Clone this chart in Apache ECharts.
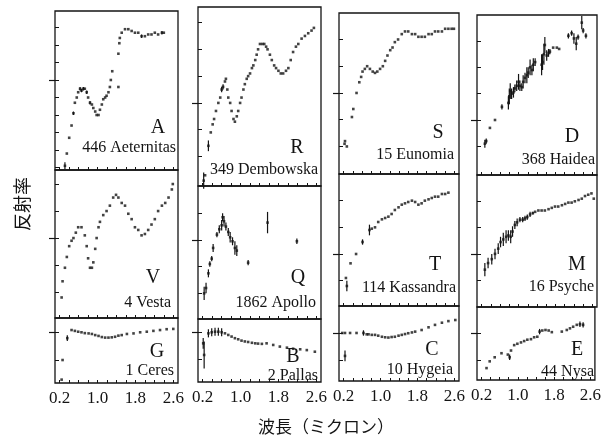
<!DOCTYPE html>
<html>
<head>
<meta charset="utf-8">
<script src="https://cdn.jsdelivr.net/npm/echarts@6/dist/echarts.min.js"></script>
<style>
html, body { margin: 0; padding: 0; background: #fff; }
#main { width: 604px; height: 439px; }
</style>
</head>
<body>
<div id="main"></div>
<script>
// [wavelength (micron), relative reflectance, error bar half length]
const aeternitas = [[0.31,0.51,0.02],[0.35,0.58,0],[0.40,0.67,0],[0.45,0.74,0],[0.49,0.81,0.01],[0.52,0.87,0],[0.56,0.90,0],[0.59,0.93,0],[0.63,0.95,0.01],[0.66,0.94,0.01],[0.70,0.95,0.01],[0.73,0.95,0],[0.77,0.93,0.01],[0.80,0.90,0],[0.84,0.87,0.01],[0.88,0.86,0],[0.91,0.84,0],[0.95,0.82,0],[0.98,0.80,0],[1.02,0.80,0],[1.05,0.83,0],[1.09,0.86,0],[1.12,0.89,0],[1.16,0.90,0],[1.19,0.91,0],[1.23,0.93,0],[1.26,0.96,0],[1.28,1.00,0],[1.31,1.05,0],[1.44,0.96,0],[1.44,1.15,0],[1.46,1.21,0],[1.47,1.24,0],[1.51,1.27,0],[1.58,1.29,0],[1.65,1.29,0],[1.72,1.28,0],[1.79,1.27,0],[1.86,1.27,0],[1.93,1.25,0.01],[2.00,1.25,0],[2.07,1.26,0],[2.14,1.26,0],[2.21,1.27,0],[2.28,1.26,0],[2.36,1.27,0.01],[2.40,1.27,0]];
const dembowska = [[0.22,0.71,0.03],[0.25,0.73,0],[0.32,0.84,0.02],[0.37,0.89,0],[0.41,0.92,0],[0.44,0.94,0],[0.48,0.97,0],[0.53,1.00,0],[0.57,1.02,0],[0.60,1.05,0.01],[0.63,1.06,0.01],[0.67,1.08,0],[0.69,1.09,0],[0.72,1.05,0],[0.74,1.02,0],[0.78,1.00,0],[0.81,0.97,0],[0.85,0.94,0],[0.88,0.93,0],[0.92,0.95,0],[0.95,0.97,0],[0.99,1.00,0],[1.02,1.02,0],[1.06,1.05,0],[1.09,1.07,0],[1.13,1.09,0],[1.16,1.10,0],[1.20,1.11,0],[1.24,1.13,0],[1.27,1.14,0],[1.31,1.16,0],[1.34,1.18,0],[1.37,1.20,0],[1.41,1.22,0],[1.46,1.22,0],[1.50,1.22,0],[1.54,1.21,0],[1.57,1.20,0],[1.62,1.18,0],[1.66,1.16,0],[1.71,1.14,0],[1.75,1.13,0],[1.80,1.12,0],[1.85,1.11,0],[1.90,1.11,0],[1.96,1.12,0],[2.01,1.13,0],[2.06,1.16,0],[2.11,1.19,0],[2.17,1.21,0],[2.22,1.22,0],[2.29,1.24,0],[2.36,1.25,0],[2.43,1.26,0],[2.50,1.27,0],[2.55,1.28,0]];
const eunomia = [[0.22,0.81,0],[0.23,0.82,0],[0.27,0.80,0],[0.38,0.91,0],[0.41,0.94,0],[0.48,1.00,0],[0.54,1.04,0],[0.58,1.06,0],[0.61,1.08,0],[0.66,1.09,0],[0.71,1.10,0],[0.77,1.09,0],[0.83,1.08,0],[0.88,1.075,0],[0.93,1.08,0],[0.99,1.09,0],[1.05,1.10,0],[1.10,1.12,0],[1.15,1.14,0],[1.21,1.16,0],[1.26,1.17,0],[1.31,1.19,0],[1.38,1.20,0],[1.46,1.22,0],[1.53,1.23,0],[1.60,1.23,0],[1.68,1.22,0],[1.75,1.22,0],[1.82,1.21,0],[1.89,1.21,0],[1.96,1.21,0],[2.04,1.22,0],[2.11,1.22,0],[2.18,1.23,0],[2.25,1.23,0],[2.33,1.23,0],[2.40,1.24,0],[2.47,1.24,0],[2.54,1.24,0],[2.59,1.24,0]];
const haidea = [[0.27,0.91,0.015],[0.30,0.92,0.01],[0.38,0.97,0],[0.49,1.00,0],[0.64,1.05,0.01],[0.78,1.065,0.025],[0.80,1.09,0.03],[0.82,1.11,0.03],[0.85,1.10,0.02],[0.89,1.105,0.02],[0.92,1.12,0.015],[0.96,1.13,0.02],[1.00,1.145,0.03],[1.03,1.13,0.02],[1.07,1.125,0.015],[1.10,1.145,0.025],[1.14,1.16,0.02],[1.18,1.17,0.03],[1.21,1.18,0.02],[1.25,1.20,0.03],[1.29,1.19,0.02],[1.32,1.21,0.025],[1.36,1.22,0.015],[1.50,1.21,0.04],[1.52,1.22,0.03],[1.55,1.25,0.04],[1.57,1.285,0.03],[1.61,1.245,0.02],[1.65,1.255,0.015],[1.68,1.26,0.01],[1.75,1.275,0],[1.83,1.275,0],[1.88,1.27,0],[2.08,1.32,0.01],[2.15,1.33,0.01],[2.20,1.31,0.02],[2.25,1.29,0.025],[2.29,1.315,0.01],[2.37,1.37,0.025],[2.40,1.34,0.01],[2.46,1.32,0.01]];
const vesta = [[0.24,0.78,0],[0.26,0.84,0],[0.31,0.89,0],[0.35,0.93,0],[0.40,0.97,0],[0.45,0.99,0],[0.49,1.00,0],[0.54,1.02,0],[0.59,1.04,0],[0.66,1.04,0],[0.73,1.01,0],[0.77,0.97,0],[0.80,0.925,0],[0.84,0.89,0],[0.88,0.89,0],[0.91,0.91,0],[0.95,0.96,0],[0.98,1.00,0],[1.02,1.04,0],[1.05,1.06,0],[1.12,1.085,0],[1.19,1.10,0],[1.26,1.12,0],[1.33,1.15,0],[1.39,1.16,0],[1.44,1.15,0],[1.51,1.13,0],[1.58,1.12,0],[1.65,1.09,0],[1.72,1.07,0],[1.79,1.04,0],[1.86,1.03,0],[1.93,1.01,0],[2.00,1.015,0],[2.07,1.03,0],[2.14,1.05,0],[2.21,1.07,0],[2.28,1.10,0],[2.36,1.12,0],[2.43,1.13,0],[2.50,1.15,0],[2.57,1.18,0],[2.59,1.20,0]];
const apollo = [[0.23,0.80,0.025],[0.27,0.82,0.02],[0.32,0.875,0.015],[0.35,0.91,0.01],[0.39,0.93,0.01],[0.42,0.97,0.015],[0.50,1.02,0.01],[0.55,1.04,0.015],[0.60,1.055,0.02],[0.62,1.085,0.015],[0.65,1.07,0.02],[0.69,1.05,0.015],[0.74,1.03,0.015],[0.78,1.01,0.02],[0.83,0.995,0.015],[0.88,0.97,0.025],[0.92,0.96,0.02],[1.16,0.915,0.01],[1.57,1.065,0.04],[2.19,0.995,0.01]];
const kassandra = [[0.25,0.91,0],[0.27,0.88,0.02],[0.35,0.965,0],[0.47,1.00,0],[0.61,1.045,0.01],[0.76,1.09,0.02],[0.81,1.095,0],[0.88,1.10,0],[0.95,1.12,0],[1.03,1.13,0],[1.10,1.135,0],[1.17,1.14,0],[1.24,1.15,0],[1.31,1.165,0],[1.39,1.175,0],[1.46,1.185,0],[1.53,1.19,0],[1.60,1.195,0],[1.68,1.20,0],[1.75,1.195,0],[1.82,1.185,0],[1.89,1.19,0],[1.96,1.20,0],[2.04,1.205,0],[2.11,1.21,0],[2.18,1.215,0],[2.25,1.215,0],[2.33,1.225,0],[2.40,1.225,0],[2.47,1.23,0]];
const psyche = [[0.27,0.94,0.025],[0.34,0.965,0.02],[0.42,0.98,0.02],[0.49,1.00,0.02],[0.56,1.02,0.02],[0.61,1.045,0.02],[0.67,1.055,0.025],[0.73,1.065,0.025],[0.78,1.07,0.02],[0.83,1.065,0.025],[0.87,1.085,0.02],[0.92,1.11,0.015],[0.97,1.12,0.015],[1.03,1.13,0.01],[1.09,1.13,0.01],[1.14,1.135,0.01],[1.19,1.14,0.01],[1.25,1.15,0.01],[1.31,1.155,0.005],[1.36,1.16,0],[1.43,1.165,0],[1.50,1.165,0],[1.57,1.165,0],[1.65,1.17,0],[1.72,1.175,0],[1.79,1.18,0],[1.86,1.18,0],[1.94,1.185,0],[2.01,1.19,0],[2.08,1.195,0],[2.15,1.195,0],[2.22,1.20,0],[2.30,1.205,0],[2.37,1.21,0],[2.44,1.22,0],[2.51,1.225,0],[2.58,1.23,0],[2.63,1.21,0]];
const ceres = [[0.24,0.83,0],[0.26,0.90,0],[0.36,0.978,0.01],[0.45,1.007,0],[0.52,1.004,0],[0.59,1.001,0],[0.66,0.999,0],[0.73,0.996,0],[0.81,0.995,0],[0.88,0.993,0],[0.95,0.989,0],[1.02,0.986,0],[1.09,0.982,0],[1.16,0.980,0],[1.23,0.980,0],[1.30,0.981,0],[1.37,0.983,0],[1.44,0.987,0],[1.51,0.989,0],[1.62,0.993,0],[1.76,0.995,0],[1.90,0.999,0],[2.04,1.001,0],[2.18,1.004,0],[2.32,1.007,0],[2.46,1.010,0],[2.60,1.011,0]];
const pallas = [[0.21,0.958,0.02],[0.23,0.915,0.05],[0.32,0.995,0.015],[0.39,0.999,0.015],[0.46,1.001,0.015],[0.53,1.001,0.015],[0.60,0.999,0.015],[0.67,0.995,0],[0.74,0.989,0],[0.81,0.983,0],[0.88,0.977,0],[0.95,0.973,0],[1.02,0.968,0],[1.09,0.965,0],[1.16,0.963,0],[1.24,0.960,0],[1.31,0.958,0],[1.37,0.957,0],[1.45,0.956,0],[1.55,0.958,0],[1.69,0.952,0],[1.83,0.946,0],[1.98,0.942,0],[2.11,0.938,0],[2.26,0.936,0],[2.40,0.933,0],[2.57,0.927,0]];
const hygeia = [[0.17,1.0,0],[0.23,0.915,0.02],[0.23,1.0,0],[0.34,1.0,0],[0.48,1.0,0],[0.63,1.0,0.01],[0.70,0.995,0],[0.74,0.995,0],[0.81,0.993,0],[0.88,0.993,0],[0.95,0.99,0],[1.03,0.986,0],[1.10,0.984,0],[1.17,0.983,0],[1.24,0.985,0],[1.31,0.986,0],[1.39,0.99,0],[1.46,0.993,0],[1.53,0.996,0],[1.60,0.999,0],[1.68,1.002,0],[1.75,1.005,0],[1.89,1.011,0],[2.04,1.021,0],[2.18,1.03,0],[2.33,1.038,0],[2.47,1.044,0],[2.62,1.048,0]];
const nysa = [[0.31,0.87,0],[0.38,0.895,0],[0.49,0.91,0],[0.64,0.925,0],[0.78,0.92,0],[0.82,0.91,0.01],[0.85,0.935,0],[0.92,0.955,0],[0.99,0.96,0],[1.07,0.965,0],[1.14,0.97,0],[1.21,0.975,0],[1.29,0.977,0],[1.36,0.984,0],[1.43,0.986,0],[1.48,1.005,0.01],[1.54,1.009,0],[1.61,1.011,0],[1.68,1.009,0],[1.75,1.003,0],[1.97,1.005,0],[2.08,1.011,0],[2.15,1.017,0],[2.22,1.023,0],[2.30,1.03,0],[2.37,1.032,0.01],[2.44,1.03,0.01]];

const spectra = [aeternitas, dembowska, eunomia, haidea, vesta, apollo, kassandra, psyche, ceres, pallas, hygeia, nysa];
const classes = ['A', 'R', 'S', 'D', 'V', 'Q', 'T', 'M', 'G', 'B', 'C', 'E'];
const names = ['446 Aeternitas', '349 Dembowska', '15 Eunomia', '368 Haidea', '4 Vesta', '1862 Apollo',
    '114 Kassandra', '16 Psyche', '1 Ceres', '2 Pallas', '10 Hygeia', '44 Nysa'];
const xTickLabels = [0.2, 1.0, 1.8, 2.6];

// panel boxes: left, top, width, height, y min, y max
const boxes = [
    [55, 11, 123, 159, 0.486, 1.394],
    [198, 7, 123, 179, 0.690, 1.358],
    [339, 13, 120, 161, 0.697, 1.299],
    [477, 15, 120, 160, 0.791, 1.399],
    [55, 170, 123, 148, 0.704, 1.252],
    [198, 186, 123, 133, 0.704, 1.202],
    [339, 174, 120, 132, 0.805, 1.300],
    [477, 175, 120, 132, 0.798, 1.300],
    [55, 318, 123, 65, 0.818, 1.050],
    [198, 319, 123, 63, 0.815, 1.048],
    [339, 306, 120, 75, 0.822, 1.100],
    [477, 307, 120, 73, 0.826, 1.096]
];
// class letter x, y; name right edge, name y
const textPos = [
    [158, 128, 176, 148], [297, 148, 318, 170], [438, 133, 454, 155], [572, 137, 595, 160],
    [153, 278, 171, 303], [298, 278, 316, 303], [435, 265, 456, 288], [577, 265, 594, 287],
    [157, 352, 174, 371], [293, 357, 318, 376], [432, 350, 453, 370], [577, 350, 594, 372]
];

const SERIF = '"Liberation Serif", "DejaVu Serif", serif';
const INK = '#141414';

const xTicks = [];
for (let v = 0.2; v < 2.65; v += 0.2) xTicks.push(Math.round(v * 10) / 10);

function yTicks(min, max) {
    const out = [];
    for (let v = Math.ceil(min * 10) / 10; v < max; v += 0.1) {
        const r = Math.round(v * 10) / 10;
        if (r > min + 0.01 && r < max - 0.01) out.push(r);
    }
    return out;
}

function errorBar(params, api) {
    const x = api.value(0), y = api.value(1), e = api.value(2);
    const lo = api.coord([x, y - e]);
    const hi = api.coord([x, y + e]);
    return {
        type: 'line',
        shape: { x1: lo[0], y1: lo[1], x2: hi[0], y2: hi[1] },
        style: { stroke: INK, lineWidth: 1.2 }
    };
}

const grid = [], xAxis = [], yAxis = [], series = [], graphic = [];

spectra.forEach((data, i) => {
    const [left, top, width, height, ymin, ymax] = boxes[i];
    const bottomRow = i >= 8;
    grid.push({ left, top, width, height, show: true, borderColor: INK, borderWidth: 1.3, backgroundColor: 'transparent' });
    xAxis.push({
        type: 'value', gridIndex: i, min: 0.1, max: 2.7,
        axisLine: { show: false },
        axisTick: { show: true, inside: true, length: 3, customValues: xTicks, lineStyle: { color: INK } },
        axisLabel: { show: bottomRow, customValues: xTickLabels, margin: 7, color: INK,
            fontFamily: SERIF, fontSize: 17, formatter: v => v.toFixed(1) },
        splitLine: { show: false }
    });
    // minor ticks inside
    yAxis.push({
        type: 'value', gridIndex: i, min: ymin, max: ymax, position: 'left',
        axisLine: { show: false },
        axisTick: { show: true, inside: true, length: 4, customValues: yTicks(ymin, ymax), lineStyle: { color: INK } },
        axisLabel: { show: false }, splitLine: { show: false }
    });
    // major tick at 1.0 crossing the frame
    yAxis.push({
        type: 'value', gridIndex: i, min: ymin, max: ymax, position: 'left',
        axisLine: { show: false },
        axisTick: { show: true, inside: false, length: 6, customValues: [1.0], lineStyle: { color: INK, width: 1.2 } },
        axisLabel: { show: false }, splitLine: { show: false }
    });
    series.push({
        type: 'scatter', xAxisIndex: i, yAxisIndex: 2 * i,
        data: data.map(p => [p[0], p[1]]),
        symbol: 'rect', symbolSize: 2.6,
        itemStyle: { color: INK }, silent: true
    });
    series.push({
        type: 'custom', xAxisIndex: i, yAxisIndex: 2 * i,
        data: data.filter(p => p[2] > 0),
        renderItem: errorBar, silent: true
    });
    const [lx, ly, nx, ny] = textPos[i];
    graphic.push({ type: 'text', x: lx, y: ly, silent: true,
        style: { text: classes[i], font: '20px ' + SERIF, fill: INK, align: 'center', verticalAlign: 'middle' } });
    graphic.push({ type: 'text', x: nx, y: ny, silent: true,
        style: { text: names[i], font: '16px ' + SERIF, fill: INK, align: 'right', verticalAlign: 'middle' } });
});

// axis titles (y title reads bottom to top)
graphic.push({ type: 'text', x: 22, y: 204, rotation: Math.PI / 2, silent: true,
    style: { text: '反射率', font: '18px "Noto Sans CJK JP"', fill: INK, align: 'center', verticalAlign: 'middle' } });
graphic.push({ type: 'text', x: 326, y: 427, silent: true,
    style: { text: '波長（ミクロン）', font: '17px "Noto Sans CJK JP"', fill: INK, align: 'center', verticalAlign: 'middle' } });

const chart = echarts.init(document.getElementById('main'), null, { renderer: 'canvas' });
chart.setOption({
    animation: false,
    backgroundColor: '#fff',
    grid, xAxis, yAxis, series, graphic
});
</script>
</body>
</html>
